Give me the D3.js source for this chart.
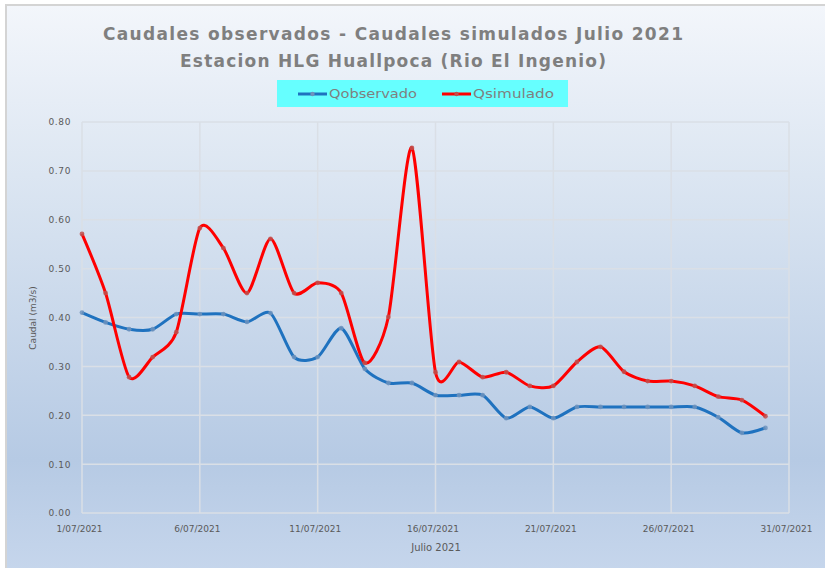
<!DOCTYPE html>
<html>
<head>
<meta charset="utf-8">
<script src="https://cdn.jsdelivr.net/npm/d3@7"></script>
<style>
body { margin:0; background:#fff; }
text { font-family: "DejaVu Sans", "Liberation Sans", sans-serif; }
</style>
</head>
<body>
<div id="chart"></div>
<script>
// dates (July 2021) and daily flows
var dates = ["2021-07-01","2021-07-02","2021-07-03","2021-07-04","2021-07-05","2021-07-06",
  "2021-07-07","2021-07-08","2021-07-09","2021-07-10","2021-07-11","2021-07-12",
  "2021-07-13","2021-07-14","2021-07-15","2021-07-16","2021-07-17","2021-07-18",
  "2021-07-19","2021-07-20","2021-07-21","2021-07-22","2021-07-23","2021-07-24",
  "2021-07-25","2021-07-26","2021-07-27","2021-07-28","2021-07-29","2021-07-30"];
var qObservado = [0.41,0.39,0.376,0.376,0.407,0.407,0.407,0.391,0.409,0.319,0.319,0.378,
  0.295,0.266,0.266,0.241,0.241,0.241,0.194,0.217,0.194,0.217,0.217,0.217,0.217,0.217,
  0.217,0.196,0.164,0.174];
var qSimulado = [0.571,0.45,0.278,0.319,0.37,0.583,0.542,0.45,0.561,0.45,0.471,0.45,
  0.307,0.401,0.747,0.288,0.309,0.278,0.288,0.26,0.26,0.309,0.34,0.289,0.27,0.27,
  0.26,0.238,0.231,0.198];
var xTicks = ["2021-07-01","2021-07-06","2021-07-11","2021-07-16","2021-07-21","2021-07-26","2021-07-31"];
var yTicks = [0,0.1,0.2,0.3,0.4,0.5,0.6,0.7,0.8];

var W = 825, H = 568;
var margin = {top:122, left:82, right:36, bottom:55};
var parse = d3.timeParse("%Y-%m-%d");

var svg = d3.select("#chart").append("svg").attr("width", W).attr("height", H);

var defs = svg.append("defs");
var grad = defs.append("linearGradient").attr("id","bg").attr("x1",0).attr("y1",0).attr("x2",0).attr("y2",1);
grad.append("stop").attr("offset","0%").attr("stop-color","#f3f6fb");
grad.append("stop").attr("offset","30%").attr("stop-color","#dce6f2");
grad.append("stop").attr("offset","80%").attr("stop-color","#b6cae4");
grad.append("stop").attr("offset","100%").attr("stop-color","#c6d6ec");

svg.append("rect").attr("x",6).attr("y",5).attr("width",W).attr("height",H)
  .attr("fill","url(#bg)").attr("stroke","#d4d4d4").attr("stroke-width",2);

var x = d3.scaleTime()
  .domain([parse("2021-07-01"), parse("2021-07-31")])
  .range([margin.left, W - margin.right]);
var y = d3.scaleLinear().domain([0,0.8]).range([H - margin.bottom, margin.top]);

// grid
svg.append("g").selectAll("line").data(yTicks).enter().append("line")
  .attr("x1", margin.left).attr("x2", W - margin.right)
  .attr("y1", d => y(d)).attr("y2", d => y(d))
  .attr("stroke","#dadfe6").attr("stroke-width",1.5);
svg.append("g").selectAll("line").data(xTicks).enter().append("line")
  .attr("x1", d => x(parse(d))).attr("x2", d => x(parse(d)))
  .attr("y1", y(0)).attr("y2", y(0.8))
  .attr("stroke","#dadfe6").attr("stroke-width",1.5);

// axes
var yAxis = d3.axisLeft(y).tickValues(yTicks).tickFormat(d3.format(".2f")).tickSize(0).tickPadding(11);
svg.append("g").attr("transform","translate(" + margin.left + ",0)").call(yAxis)
  .call(g => g.select(".domain").remove())
  .selectAll("text").attr("fill","#5a5a5a").style("font-size","9px").style("letter-spacing","0.6px")
  .style("font-family","DejaVu Sans");

var xAxis = d3.axisBottom(x).tickValues(xTicks.map(parse)).tickFormat(d3.timeFormat("%-d/%m/%Y")).tickSize(0).tickPadding(13);
svg.append("g").attr("transform","translate(0," + y(0) + ")").call(xAxis)
  .call(g => g.select(".domain").remove())
  .selectAll("text").attr("fill","#5a5a5a").style("font-size","9px").attr("dx",-3)
  .style("font-family","DejaVu Sans");

svg.append("text").attr("x", 436).attr("y", 551).attr("text-anchor","middle")
  .attr("fill","#5a5a5a").style("font-size","10px").text("Julio 2021");
svg.append("text").attr("transform","translate(36,318) rotate(-90)").attr("text-anchor","middle")
  .attr("fill","#5a5a5a").style("font-size","9px").text("Caudal (m3/s)");

// series
var series = [
  {name:"Qobservado", values:qObservado, color:"#1f72bf", marker:"#6f93bd"},
  {name:"Qsimulado", values:qSimulado, color:"#ff0000", marker:"#c0504d"}
];
var line = d3.line()
  .x((d,i) => x(parse(dates[i])))
  .y(d => y(d))
  .curve(d3.curveCardinal.tension(0.25));

series.forEach(function(s) {
  svg.append("path").attr("d", line(s.values)).attr("fill","none")
    .attr("stroke", s.color).attr("stroke-width",3).attr("stroke-linejoin","round");
  svg.append("g").selectAll("circle").data(s.values).enter().append("circle")
    .attr("cx", (d,i) => x(parse(dates[i]))).attr("cy", d => y(d)).attr("r",2.4)
    .attr("fill", s.marker).attr("opacity",0.85);
});

// title
svg.append("text").attr("x",393).attr("y",40).attr("text-anchor","middle")
  .attr("fill","#7f7f7f").style("font-size","17px").style("font-weight","bold")
  .attr("textLength",580).attr("lengthAdjust","spacing")
  .text("Caudales observados - Caudales simulados Julio 2021");
svg.append("text").attr("x",393).attr("y",67).attr("text-anchor","middle")
  .attr("fill","#7f7f7f").style("font-size","17px").style("font-weight","bold")
  .attr("textLength",426).attr("lengthAdjust","spacing")
  .text("Estacion HLG Huallpoca (Rio El Ingenio)");

// legend
var lg = svg.append("g");
lg.append("rect").attr("x",277).attr("y",80).attr("width",291).attr("height",27).attr("fill","#66ffff");
var legendX = [298, 442];
series.forEach(function(s, i) {
  lg.append("line").attr("x1", legendX[i]).attr("x2", legendX[i] + 29)
    .attr("y1", 94).attr("y2", 94).attr("stroke", s.color).attr("stroke-width",3);
  lg.append("circle").attr("cx", legendX[i] + 14.5).attr("cy", 94).attr("r",2.2).attr("fill", s.marker);
  lg.append("text").attr("x", legendX[i] + 31).attr("y", 98).attr("fill","#7f7f7f")
    .style("font-size","12px").attr("textLength", i == 0 ? 88 : 81).attr("lengthAdjust","spacingAndGlyphs")
    .text(s.name);
});
</script>
</body>
</html>
